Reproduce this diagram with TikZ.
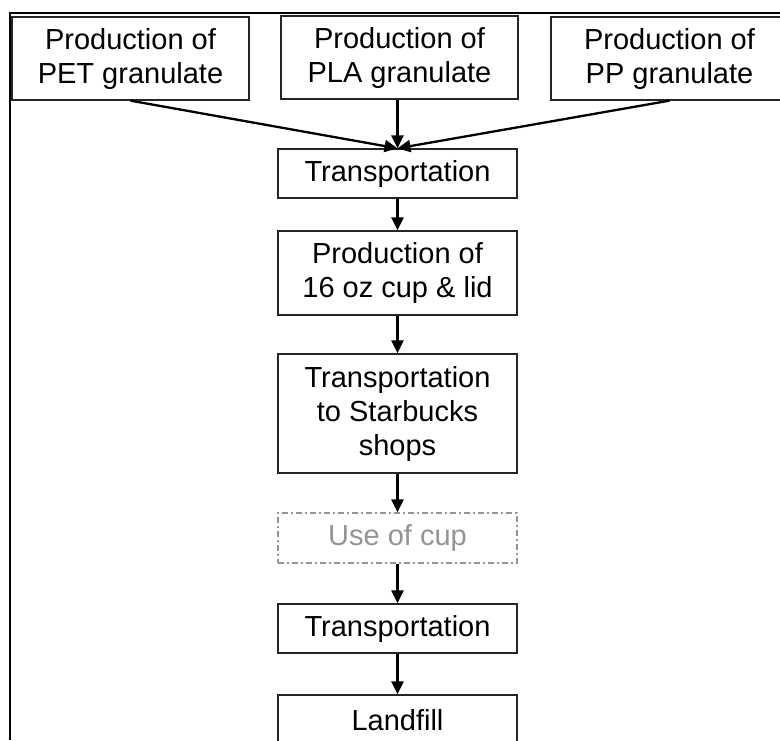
\documentclass[tikz,border=0pt]{standalone}
\usepackage{fontspec}
\setmainfont{Liberation Sans}
\usetikzlibrary{arrows.meta}
\tikzset{
  box/.style={draw=black!85, line width=1.3pt, inner sep=0pt, align=center,
    minimum width=239pt, font=\fontsize{29}{34}\selectfont},
  ghost/.style={box, draw=black!42, text=black!42,
    dash pattern=on 6pt off 3pt on 2pt off 3pt},
  flow/.style={line width=2.3pt, -{Triangle[length=13pt,width=12pt]}},
  frame/.style={line width=2.4pt}
}
\begin{document}
\begin{tikzpicture}[x=1pt,y=-1pt]
\useasboundingbox (0,0) rectangle (780,740);
\coordinate (fa) at (10,740);
\coordinate (fb) at (10,13);
\coordinate (fc) at (780,13);
\draw[frame] (fa) -- (fb) -- (fc);
\node[box, minimum width=237pt, minimum height=83pt] (pet) at (130.5,58.5) {Production of\\PET granulate};
\node[box, minimum width=237pt, minimum height=83pt] (pla) at (399.5,57.5) {Production of\\PLA granulate};
\node[box, minimum width=237pt, minimum height=83pt] (pp) at (669.5,58.5) {Production of\\PP granulate};
\node[box, minimum height=49pt] (t1) at (397.5,173.5) {Transportation};
\node[box, minimum height=84pt] (cup) at (397.5,273) {Production of\\16 oz cup \& lid};
\node[box, minimum height=119pt] (shop) at (397.5,413.5) {Transportation\\to Starbucks\\shops};
\node[ghost, minimum height=50pt] (use) at (397.5,538) {Use of cup};
\node[box, minimum height=49pt] (t2) at (397.5,628.5) {Transportation};
\node[box, minimum height=50pt] (land) at (397.5,720) {Landfill};
\draw[flow] (pet.south) -- (t1.north);
\draw[flow] (pla.south -| t1.north) -- (t1.north);
\draw[flow] (pp.south) -- (t1.north);
\draw[flow] (t1) -- (cup);
\draw[flow] (cup) -- (shop);
\draw[flow] (shop) -- (use);
\draw[flow] (use) -- (t2);
\draw[flow] (t2) -- (land);
\end{tikzpicture}
\end{document}
